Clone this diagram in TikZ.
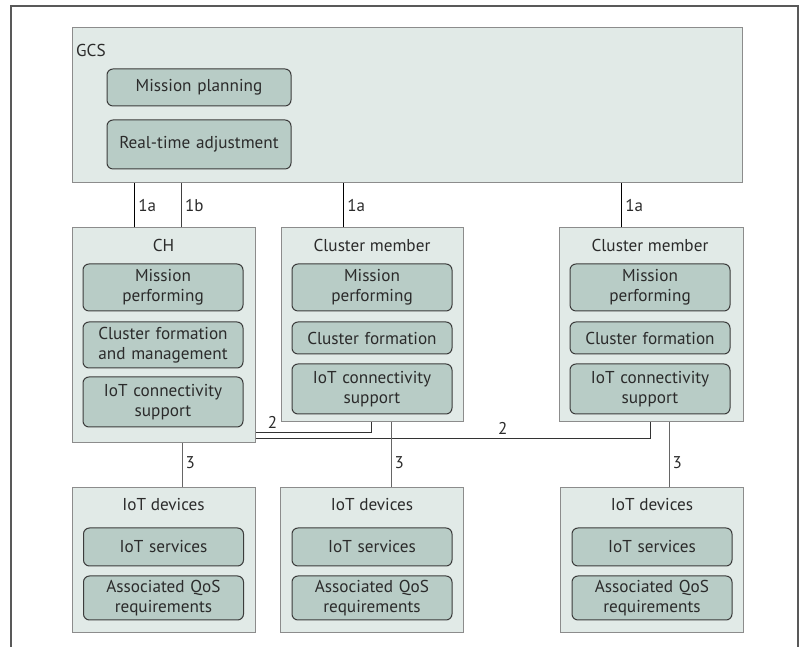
\documentclass[tikz,border=0pt]{standalone}
\usepackage{fontspec}
\setmainfont{PT Sans}
\definecolor{boxfill}{HTML}{E1EAE7}
\definecolor{boxedge}{HTML}{8C8C8C}
\definecolor{funcfill}{HTML}{B8CCC6}
\definecolor{funcedge}{HTML}{3C3C3C}
\definecolor{txt}{HTML}{2B2B2B}
\begin{document}
\begin{tikzpicture}[x=1pt,y=1pt,
unitbox/.style={draw=boxedge,fill=boxfill,line width=1pt,inner sep=0pt},
funcbox/.style={draw=funcedge,fill=funcfill,line width=1pt,rounded corners=6pt,minimum width=160pt,text width=156pt,align=center,inner sep=0pt,text=txt,font=\fontsize{17.2}{20}\selectfont},
boxtitle/.style={inner sep=0pt,text=txt,font=\fontsize{17.2}{20}\selectfont},
lbl/.style={inner sep=3pt,text=txt,font=\fontsize{17}{18}\selectfont},
link1a/.style={line width=1.8pt,black},
link1b/.style={line width=1pt,black!75},
link2/.style={line width=1pt,black!80},
link3/.style={line width=1pt,black!60}]
\useasboundingbox (0,0) rectangle (806,647);
\draw[line width=1.2pt,black!65] (11,0) -- (11,641) -- (798,641) -- (798,0);
\node[unitbox,minimum width=670pt,minimum height=155pt] (gcs) at (407,541.5) {};
\node[boxtitle,anchor=west] (gcstitle) at (76,597) {GCS};
\node[funcbox,minimum width=184pt,text width=180pt,minimum height=37pt] (plan) at (199,559.5) {Mission planning};
\node[funcbox,minimum width=184pt,text width=180pt,minimum height=49pt] (adjust) at (199,502.5) {Real-time adjustment};
\node[unitbox,minimum width=183pt,minimum height=215pt] (ch) at (163.5,311.5) {};
\node[unitbox,minimum width=182pt,minimum height=194pt] (cm1) at (372,322) {};
\node[unitbox,minimum width=184pt,minimum height=194pt] (cm2) at (651,322) {};
\node[boxtitle] (chtitle) at (163.5,402) {CH};
\node[funcbox,minimum height=47pt] (ch-mis) at (163,359.5) {Mission\\performing};
\node[funcbox,minimum height=46pt] (ch-form) at (163,302) {Cluster formation\\and management};
\node[funcbox,minimum height=50pt] (ch-iot) at (163,245) {IoT connectivity\\support};
\foreach \n/\x in {cm1/372,cm2/650} {
\node[boxtitle] (\n-title) at (\x,402) {Cluster member};
\node[funcbox,minimum height=47pt] (\n-mis) at (\x,359.5) {Mission\\performing};
\node[funcbox,minimum height=32pt] (\n-form) at (\x,309) {Cluster formation};
\node[funcbox,minimum height=50pt] (\n-iot) at (\x,258) {IoT connectivity\\support};
}
\foreach \n/\x in {dev1/163.5,dev2/372,dev3/652} {
\node[unitbox,minimum width=183pt,minimum height=145pt] (\n) at (\x,86.5) {};
\node[boxtitle] (\n-title) at (\x,142) {IoT devices};
\node[funcbox,minimum height=38pt] (\n-srv) at (\x,100) {IoT services};
\node[funcbox,minimum height=44pt] (\n-qos) at (\x,49) {Associated QoS\\requirements};
}
\foreach \n in {ch,cm1,cm2} {
\coordinate (\n-up) at ([xshift=63pt]\n.north west);
\draw[link1a] (\n-up) -- (\n-up |- gcs.south) node[lbl,midway,right] {1a};
}
\coordinate (ch-up2) at ([xshift=110pt]ch.north west);
\draw[link1b] (ch-up2) -- (ch-up2 |- gcs.south) node[lbl,midway,right] {1b};
\draw[link2] ([yshift=11pt]ch.south east) -| ([xshift=91pt]cm1.south west) node[lbl,pos=.073,above] {2};
\draw[link2] ([yshift=5pt]ch.south east) -| ([xshift=92pt]cm2.south west) node[lbl,pos=.313,above] {2};
\foreach \n/\d in {ch/dev1,cm1/dev2,cm2/dev3} {
\coordinate (\n-down) at ([xshift=111pt]\n.south west);
\coordinate (\d-up) at (\n-down |- \d.north);
\draw[link3] (\n-down) -- (\d-up);
\node[lbl,right] at ([yshift=25pt]\d-up) {3};
}
\end{tikzpicture}
\end{document}
